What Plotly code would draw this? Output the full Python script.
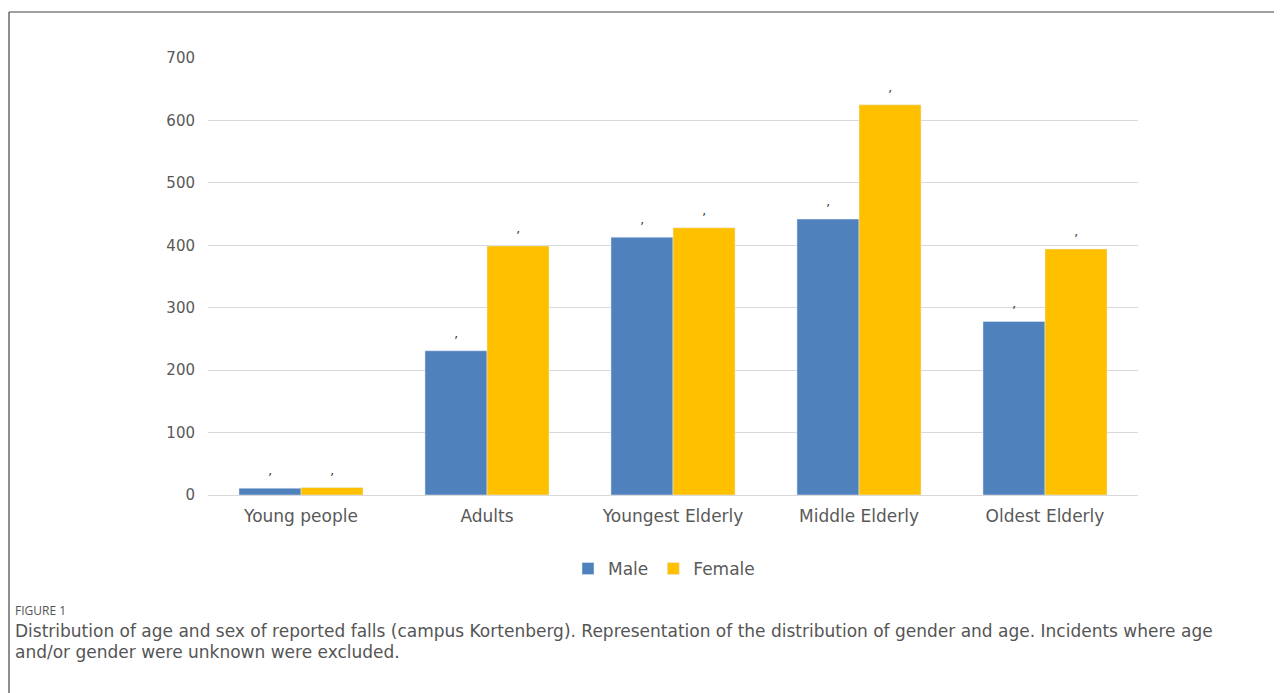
import plotly.graph_objects as go

categories = ["Young people", "Adults", "Youngest Elderly", "Middle Elderly", "Oldest Elderly"]
male = [11, 231, 413, 442, 278]
female = [12, 399, 428, 625, 394]
y_ticks = [0, 100, 200, 300, 400, 500, 600, 700]

# page body has an 8px margin: work in figure coordinates (screen - 8)
W, H = 1274, 685
L, R, T, B = 200, 144, 50, 198
pw, ph = W - L - R, H - T - B
OFF = 8

def px_x(x):  # x given in screen pixels
    return (x - OFF - L) / pw

def px_y(y):  # y given in screen pixels
    return (H - B - (y - OFF)) / ph

x_font = dict(family="DejaVu Sans", size=17, color="#595959")
y_font = dict(family="DejaVu Sans", size=15, color="#595959")

fig = go.Figure()
fig.add_trace(go.Bar(name="Male", x=categories, y=male, marker_color="#4f81bd",
                     text=["\u2019"] * len(male), textposition="outside",
                     textfont=dict(size=13, color="#404040"), cliponaxis=False))
fig.add_trace(go.Bar(name="Female", x=categories, y=female, marker_color="#ffc000",
                     text=["\u2019"] * len(female), textposition="outside",
                     textfont=dict(size=13, color="#404040"), cliponaxis=False))

fig.update_layout(
    width=W, height=H,
    margin=dict(l=L, r=R, t=T, b=B, autoexpand=False),
    paper_bgcolor="white", plot_bgcolor="white",
    barmode="group", bargap=0.333, bargroupgap=0,
    showlegend=True,
    legend=dict(orientation="h", x=px_x(664), xanchor="center", y=px_y(569), yanchor="middle",
                font=dict(family="DejaVu Sans", size=17, color="#595959"),
                itemwidth=30, traceorder="normal"),
    xaxis=dict(showgrid=False, showline=True, linecolor="#d9d9d9", linewidth=1,
               ticks="", tickfont=x_font, ticklabelstandoff=6),
    yaxis=dict(range=[0, 700], tickvals=y_ticks, showgrid=True, gridcolor="#d9d9d9",
               gridwidth=1, zeroline=False, showline=False, ticks="",
               tickfont=y_font, ticklabelstandoff=12),
    font=dict(family="DejaVu Sans"),
)

# figure frame (left and top borders)
fig.add_shape(type="line", xref="paper", yref="paper",
              x0=px_x(9), x1=px_x(1300), y0=px_y(12), y1=px_y(12),
              line=dict(color="#444444", width=1.2))
fig.add_shape(type="line", xref="paper", yref="paper",
              x0=px_x(9), x1=px_x(9), y0=px_y(12), y1=px_y(710),
              line=dict(color="#444444", width=1.2))

cap_color = "#555555"
fig.add_annotation(xref="paper", yref="paper", x=px_x(13), y=px_y(610),
                   xanchor="left", yanchor="middle", showarrow=False,
                   text="FIGURE 1", font=dict(family="Open Sans", size=12, color=cap_color))
fig.add_annotation(xref="paper", yref="paper", x=px_x(13), y=px_y(631),
                   xanchor="left", yanchor="middle", showarrow=False,
                   text="Distribution of age and sex of reported falls (campus Kortenberg). Representation of the distribution of gender and age. Incidents where age",
                   font=dict(family="DejaVu Sans", size=17, color=cap_color))
fig.add_annotation(xref="paper", yref="paper", x=px_x(13), y=px_y(652),
                   xanchor="left", yanchor="middle", showarrow=False,
                   text="and/or gender were unknown were excluded.",
                   font=dict(family="DejaVu Sans", size=17, color=cap_color))

fig.write_html("out.html")
